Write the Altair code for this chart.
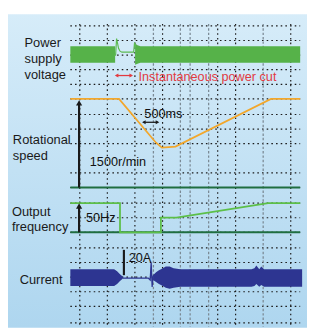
import altair as alt
import pandas as pd

# ---------------- data (oscilloscope-style traces, x = time position, y = screen level) -------------
hgrid_y = [22, 37, 52, 67, 82, 97, 113, 128, 143, 173, 188, 204, 219, 234, 250, 265, 280, 295, 310, 327]
vgrid_black = [81.7, 110, 138.3, 166.7, 223.3, 241.7, 298.3]
vgrid_grey = [157.3, 185, 195, 214, 270]

# power supply voltage envelope (before / after the cut) and the cut trace
pv1_x = [72, 118]
pv1_top = [43, 43]
pv1_bot = [60, 60]
pv2_x = [138.5, 141, 144, 308]
pv2_top = [40, 42, 43, 43]
pv2_bot = [62, 61, 60, 60]
pcut_x = [117, 118.5, 119.5, 120.5, 121.5, 123, 125, 137, 138, 139]
pcut_y = [52, 52, 35, 40, 45, 48, 49, 49, 39, 44]

# rotational speed
spd_x = [72, 122, 160, 166, 180, 278, 308]
spd_y = [97, 97, 142, 147, 146, 97, 97]

# output frequency
frq_x = [72, 123, 123, 165, 165, 181, 275, 308]
frq_y = [204, 204, 234, 234, 219, 219, 204, 204]

# baselines
base_y = [188, 234]

# current envelope
cur1_x = [72, 117, 120, 123, 126]
cur1_top = [272, 272, 274, 277, 279.5]
cur1_bot = [289, 289, 287, 284, 281.5]
cur_mid_x = [126, 152, 154, 155, 156, 157, 159]
cur_mid_y = [281, 281, 283, 265, 290, 279, 277]
cur2_x = [157, 160, 163, 167, 170, 174, 178, 185, 258, 261, 263, 266, 268, 271, 310]
cur2_top = [278, 275, 273, 271, 269, 269, 271, 272, 272, 271, 268, 272, 269, 272, 272]
cur2_bot = [283, 285, 287, 289, 291, 292, 291, 290, 290, 289, 287, 290, 288, 290, 290]

labels = ["Power", "supply", "voltage", "Rotational", "speed", "Output", "frequency", "Current"]
label_x = [25, 25, 25, 13, 13, 12, 12, 20]
label_y = [43.5, 60, 76.5, 143, 160, 217, 233, 287.5]

notes = ["Instantaneous power cut", "500ms", "1500r/min", "50Hz", "20A"]
note_x = [142, 148, 92, 88, 132]
note_y = [78.5, 116.5, 166, 223, 264.5]
note_color = ["#e23a3f", "#111111", "#111111", "#111111", "#111111"]

# ---------------- helpers ----------------
XS = alt.Scale(domain=[8, 315], nice=False, zero=False)
YS = alt.Scale(domain=[8, 332], nice=False, zero=False, reverse=True)


def X(f="x"):
    return alt.X(f + ":Q", scale=XS, axis=None)


def Y(f="y"):
    return alt.Y(f + ":Q", scale=YS, axis=None)


FONT = "Liberation Sans"

bg = alt.Chart(pd.DataFrame({"x": [7], "x2": [315], "y": [10], "y2": [332]})).mark_rect(
    color=alt.Gradient(
        gradient="linear",
        stops=[alt.GradientStop(color="#d6ecf9", offset=0),
               alt.GradientStop(color="#aed6ef", offset=1)],
        x1=0, x2=0, y1=0, y2=1)
).encode(x=X(), x2="x2:Q", y=Y(), y2="y2:Q")

hg = alt.Chart(pd.DataFrame({"y": hgrid_y, "x": 72, "x2": 308})).mark_rule(
    color="#1a1a1a", strokeWidth=1.2, strokeDash=[1.6, 3.2]
).encode(x=X(), x2="x2:Q", y=Y())

vgb = alt.Chart(pd.DataFrame({"x": vgrid_black, "y": 20, "y2": 331})).mark_rule(
    color="#1a1a1a", strokeWidth=1.2, strokeDash=[1.6, 3.2]
).encode(x=X(), y=Y(), y2="y2:Q")

vgg = alt.Chart(pd.DataFrame({"x": vgrid_grey, "y": 20, "y2": 331})).mark_rule(
    color="#7b8a95", strokeWidth=1.3, strokeDash=[2.5, 2]
).encode(x=X(), y=Y(), y2="y2:Q")

GREEN = "#56b249"
pv1 = alt.Chart(pd.DataFrame({"x": pv1_x, "top": pv1_top, "bot": pv1_bot})).mark_area(
    color=GREEN, orient="vertical").encode(x=X(), y=Y("top"), y2="bot:Q")
pv2 = alt.Chart(pd.DataFrame({"x": pv2_x, "top": pv2_top, "bot": pv2_bot})).mark_area(
    color=GREEN, orient="vertical").encode(x=X(), y=Y("top"), y2="bot:Q")
pcut = alt.Chart(pd.DataFrame({"x": pcut_x, "y": pcut_y, "i": range(len(pcut_x))})).mark_line(
    color="#5dbb52", strokeWidth=1.2).encode(x=X(), y=Y(), order="i:Q")

baselines = alt.Chart(pd.DataFrame({"y": base_y, "x": 72, "x2": 308})).mark_rule(
    color="#1f6e40", strokeWidth=2).encode(x=X(), x2="x2:Q", y=Y())

spd = alt.Chart(pd.DataFrame({"x": spd_x, "y": spd_y, "i": range(len(spd_x))})).mark_line(
    color="#f2a72c", strokeWidth=1.8).encode(x=X(), y=Y(), order="i:Q")

frq = alt.Chart(pd.DataFrame({"x": frq_x, "y": frq_y, "i": range(len(frq_x))})).mark_line(
    color="#5cbf48", strokeWidth=1.8).encode(x=X(), y=Y(), order="i:Q")

BLUE = "#2d3591"
cur1 = alt.Chart(pd.DataFrame({"x": cur1_x, "top": cur1_top, "bot": cur1_bot})).mark_area(
    color=BLUE, orient="vertical").encode(x=X(), y=Y("top"), y2="bot:Q")
curm = alt.Chart(pd.DataFrame({"x": cur_mid_x, "y": cur_mid_y, "i": range(len(cur_mid_x))})).mark_line(
    color=BLUE, strokeWidth=1.3).encode(x=X(), y=Y(), order="i:Q")
cur2 = alt.Chart(pd.DataFrame({"x": cur2_x, "top": cur2_top, "bot": cur2_bot})).mark_area(
    color=BLUE, orient="vertical").encode(x=X(), y=Y("top"), y2="bot:Q")

# arrows (shafts + heads)
shafts_v = alt.Chart(pd.DataFrame({"x": [81, 81, 127], "y": [102, 208, 252], "y2": [188, 234, 278]})).mark_rule(
    color="#1a1a1a", strokeWidth=2.2).encode(x=X(), y=Y(), y2="y2:Q")
heads_up = alt.Chart(pd.DataFrame({"x": [81, 81], "y": [101, 207]})).mark_point(
    shape="triangle-up", filled=True, color="#1a1a1a", size=40, opacity=1).encode(x=X(), y=Y())
shaft_h = alt.Chart(pd.DataFrame({"x": [147, 119], "x2": [162, 135], "y": [121, 73],
                                  "c": ["#1a1a1a", "#e23a3f"]})).mark_rule(strokeWidth=1.3).encode(
    x=X(), x2="x2:Q", y=Y(), color=alt.Color("c:N", scale=None))
heads_l = alt.Chart(pd.DataFrame({"x": [147.5, 119.5], "y": [121, 73], "c": ["#1a1a1a", "#e23a3f"]})).mark_point(
    shape="triangle-left", filled=True, size=18, opacity=1).encode(
    x=X(), y=Y(), color=alt.Color("c:N", scale=None))
heads_r = alt.Chart(pd.DataFrame({"x": [161.5, 134.5], "y": [121, 73], "c": ["#1a1a1a", "#e23a3f"]})).mark_point(
    shape="triangle-right", filled=True, size=18, opacity=1).encode(
    x=X(), y=Y(), color=alt.Color("c:N", scale=None))

lab = alt.Chart(pd.DataFrame({"x": label_x, "y": label_y, "t": labels})).mark_text(
    align="left", baseline="alphabetic", font=FONT, fontSize=13.2, color="#1a1a1a").encode(
    x=X(), y=Y(), text="t:N")
nt = alt.Chart(pd.DataFrame({"x": note_x, "y": note_y, "t": notes, "c": note_color})).mark_text(
    align="left", baseline="alphabetic", font=FONT, fontSize=13).encode(
    x=X(), y=Y(), text="t:N", color=alt.Color("c:N", scale=None))

chart = alt.layer(
    bg, hg, vgb, vgg, pv1, pv2, pcut, baselines, spd, frq, cur1, curm, cur2,
    shafts_v, heads_up, shaft_h, heads_l, heads_r, lab, nt
).properties(
    width=307, height=324, autosize="none", padding=0
).configure_view(stroke=None)

chart.save("out.html", embed_options={"renderer": "svg", "actions": False})
